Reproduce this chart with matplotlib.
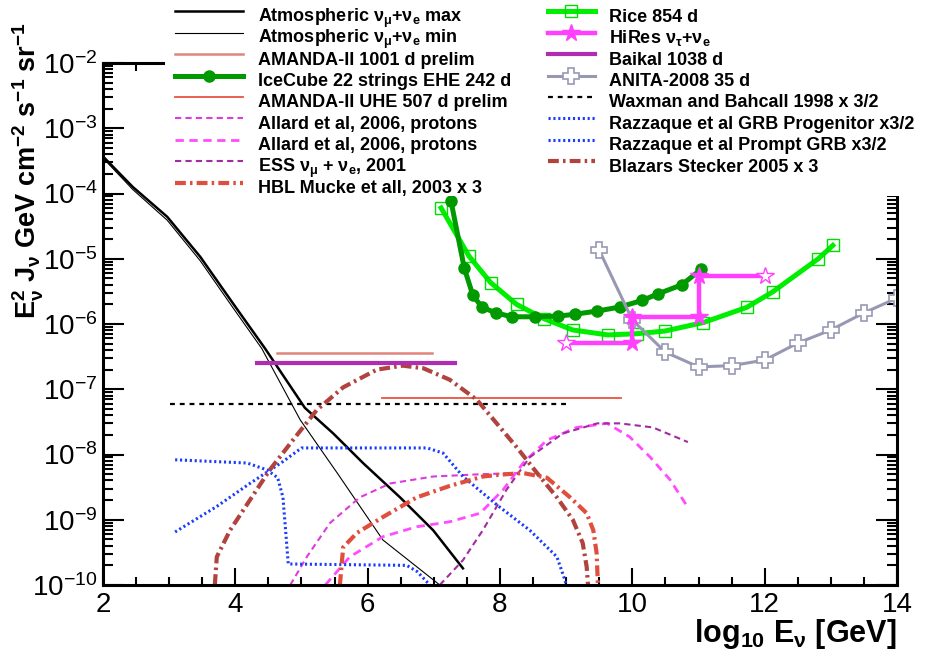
import numpy as np
import matplotlib.pyplot as plt
from matplotlib.patches import Rectangle
from matplotlib.ticker import MultipleLocator, LogLocator, NullFormatter

plt.rcParams['font.family'] = ['Liberation Sans', 'DejaVu Sans']
plt.rcParams['mathtext.default'] = 'regular'

# ---- data (x = log10 E [GeV], y = E^2 J) ----
atm_max_x = [2.0, 2.45, 2.97, 3.47, 3.96, 4.45, 5.05, 5.48, 5.93, 6.49, 6.99, 7.44]
atm_max_y = [3.7e-4, 1.26e-4, 4.4e-5, 1.07e-5, 2.1e-6, 4.2e-7, 5.2e-8, 2.1e-8, 7.4e-9, 2.2e-9, 6.9e-10, 1.8e-10]
atm_min_x = [2.0, 2.45, 2.97, 3.47, 3.96, 4.4, 4.98, 5.54, 6.23, 7.09]
atm_min_y = [3.5e-4, 1.15e-4, 3.9e-5, 9.3e-6, 1.8e-6, 4.2e-7, 3.4e-8, 5.2e-9, 4.9e-10, 1.0e-10]

amanda_x, amanda_y = [4.63, 6.97], [3.6e-7, 3.6e-7]
baikal_x, baikal_y = [4.33, 7.32], [2.5e-7, 2.5e-7]
amanda_uhe_x, amanda_uhe_y = [6.22, 9.83], [7.4e-8, 7.4e-8]
wb_x, wb_y = [3.01, 9.01], [6.0e-8, 6.0e-8]

icecube_x = [7.26, 7.46, 7.59, 7.73, 7.94, 8.18, 8.53, 8.88, 9.13, 9.47, 9.81, 10.15, 10.39, 10.75, 11.04]
icecube_y = [7.6e-5, 7.2e-6, 2.75e-6, 1.8e-6, 1.48e-6, 1.29e-6, 1.29e-6, 1.32e-6, 1.41e-6, 1.58e-6,
             1.82e-6, 2.3e-6, 2.9e-6, 4.0e-6, 6.9e-6]
rice_x = [7.11, 7.53, 7.86, 8.25, 8.67, 9.10, 9.63, 10.07, 10.49, 11.07, 11.73, 12.12, 12.81, 13.03]
rice_y = [6.0e-5, 1.1e-5, 4.3e-6, 2.0e-6, 1.2e-6, 8.1e-7, 6.8e-7, 7.1e-7, 7.8e-7, 1.05e-6, 1.8e-6,
          3.1e-6, 1.0e-5, 1.6e-5]
hires_x = [9, 10, 10, 11, 11, 12]
hires_y = [5.1e-7, 5.1e-7, 1.3e-6, 1.3e-6, 5.5e-6, 5.5e-6]
anita_x = [9.5, 10, 10.5, 11, 11.5, 12, 12.5, 13, 13.5, 14]
anita_y = [1.35e-5, 1.15e-6, 3.7e-7, 2.2e-7, 2.3e-7, 2.8e-7, 5.1e-7, 8.1e-7, 1.48e-6, 2.5e-6]

allard1_x = [4.83, 5.08, 5.43, 5.88, 6.34, 6.99, 7.74, 8.30]
allard1_y = [1.0e-10, 2.7e-10, 8.9e-10, 2.2e-9, 3.6e-9, 4.6e-9, 5.0e-9, 5.2e-9]
allard2_x = [5.36, 5.73, 6.23, 6.74, 7.24, 7.70, 8.05, 8.35, 8.71, 9.16, 9.62, 9.96, 10.27, 10.57, 10.83]
allard2_y = [1.0e-10, 2.7e-10, 5.5e-10, 7.8e-10, 9.3e-10, 1.26e-9, 2.9e-9, 7.4e-9, 1.66e-8, 2.6e-8,
             3.0e-8, 1.86e-8, 9.1e-9, 4.1e-9, 1.6e-9]
ess_x = [7.09, 7.44, 7.74, 8.10, 8.45, 8.95, 9.47, 9.81, 10.31, 10.84]
ess_y = [1.0e-10, 2.4e-10, 6.9e-10, 2.9e-9, 9.1e-9, 2.1e-8, 3.0e-8, 3.0e-8, 2.6e-8, 1.55e-8]
hbl_x = [5.58, 5.63, 5.84, 6.23, 6.74, 7.24, 7.74, 8.0, 8.35, 8.71, 9.06, 9.31, 9.41, 9.46, 9.48]
hbl_y = [1.0e-10, 3.8e-10, 6.3e-10, 1.1e-9, 2.2e-9, 3.3e-9, 4.6e-9, 4.9e-9, 5.2e-9, 4.4e-9, 2.2e-9,
         1.26e-9, 6.9e-10, 3.1e-10, 1.0e-10]
blazar_x = [3.69, 3.72, 3.92, 4.22, 4.52, 4.87, 5.23, 5.63, 6.14, 6.53, 6.84, 7.24, 7.65, 7.95, 8.25,
            8.56, 8.86, 9.10, 9.25, 9.31, 9.33]
blazar_y = [1.0e-10, 2.7e-10, 6.9e-10, 2.0e-9, 5.8e-9, 1.66e-8, 4.8e-8, 1.07e-7, 2.0e-7, 2.3e-7, 2.1e-7,
            1.4e-7, 6.9e-8, 3.0e-8, 1.3e-8, 5.2e-9, 2.2e-9, 1.0e-9, 4.4e-10, 1.9e-10, 1.0e-10]
grb_prog_x = [3.09, 4.18, 4.48, 4.64, 4.72, 4.80, 6.59, 6.75, 6.94]
grb_prog_y = [8.3e-9, 7.4e-9, 5.8e-9, 4.4e-9, 2.2e-9, 2.1e-10, 2.0e-10, 1.6e-10, 1.0e-10]
grb_prompt_x = [3.09, 3.72, 4.22, 4.72, 5.0, 6.90, 7.14, 7.44, 7.95, 8.45, 8.86, 8.98, 9.0]
grb_prompt_y = [6.5e-10, 1.6e-9, 3.6e-9, 7.8e-9, 1.26e-8, 1.26e-8, 1.05e-8, 4.6e-9, 1.7e-9, 6.9e-10,
                2.7e-10, 1.2e-10, 1.0e-10]

fig = plt.figure(figsize=(9.42, 6.63), dpi=100)
ax = fig.add_axes([103 / 942, 1 - 585 / 663, 794 / 942, 522 / 663])
ax.set_yscale('log')

dashdot = (0, (2.6, 1.0, 0.6, 1.0))

l_atm_max, = ax.plot(atm_max_x, atm_max_y, color='black', lw=1.8, label=r'Atmospheric $\nu_{\mu}$+$\nu_{e}$ max')
l_atm_min, = ax.plot(atm_min_x, atm_min_y, color='black', lw=0.8, label=r'Atmospheric $\nu_{\mu}$+$\nu_{e}$ min')
l_amanda, = ax.plot(amanda_x, amanda_y, color='#e0847c', lw=1.8, label='AMANDA-II 1001 d prelim')
l_amanda_uhe, = ax.plot(amanda_uhe_x, amanda_uhe_y, color='#e8553f', lw=1.3, label='AMANDA-II UHE 507 d prelim')
l_wb, = ax.plot(wb_x, wb_y, color='black', lw=1.6, ls=(0, (2.2, 2.2)), label='Waxman and Bahcall 1998 x 3/2')
l_allard1, = ax.plot(allard1_x, allard1_y, color='#dd3cdd', lw=1.5, ls=(0, (3, 2)), label='Allard et al, 2006, protons')
l_allard2, = ax.plot(allard2_x, allard2_y, color='#ff4cff', lw=2.0, ls=(0, (3, 2)), label='Allard et al, 2006, protons')
l_ess, = ax.plot(ess_x, ess_y, color='#a02ca0', lw=1.5, ls=(0, (3, 2)), label=r'ESS $\nu_{\mu}$ + $\nu_{e}$, 2001')
l_prog, = ax.plot(grb_prog_x, grb_prog_y, color='#1a3cff', lw=2.2, ls=(0, (0.7, 0.9)),
                  label='Razzaque et al GRB Progenitor x3/2')
l_prompt, = ax.plot(grb_prompt_x, grb_prompt_y, color='#1a3cff', lw=2.2, ls=(0, (0.7, 0.9)),
                    label='Razzaque et al Prompt GRB x3/2')
l_blazar, = ax.plot(blazar_x, blazar_y, color='#b0433e', lw=3.0, ls=dashdot, label='Blazars Stecker 2005 x 3')
l_hbl, = ax.plot(hbl_x, hbl_y, color='#e04e3e', lw=3.0, ls=dashdot, label='HBL Mucke et all, 2003 x 3')
l_baikal, = ax.plot(baikal_x, baikal_y, color='#b02cb0', lw=3.0, label='Baikal 1038 d')
l_rice, = ax.plot(rice_x, rice_y, color='#00ee00', lw=3.6, marker='s', ms=8, mfc='none', mec='#00dd00',
                  mew=1.0, label='Rice 854 d')
l_icecube, = ax.plot(icecube_x, icecube_y, color='#009a00', lw=3.6, marker='o', ms=8, label='IceCube 22 strings EHE 242 d')
l_anita, = ax.plot(anita_x, anita_y, color='#9898b4', lw=2.2, marker='P', ms=12, mfc='white', mec='#9898b4',
                   mew=1.2, label='ANITA-2008 35 d')
l_hires, = ax.plot(hires_x, hires_y, color='#ff40ff', lw=3.2, marker='*', ms=13, markevery=[1, 2, 3, 4],
                   label=r'HiRes $\nu_{\tau}$+$\nu_{e}$')
ax.plot([hires_x[0], hires_x[-1]], [hires_y[0], hires_y[-1]], ls='none', marker='*', ms=13,
        mfc='white', mec='#ff40ff', mew=1.0)

ax.set_xlim(2, 14)
ax.set_ylim(1e-10, 1e-2)
ax.xaxis.set_major_locator(MultipleLocator(2))
ax.xaxis.set_minor_locator(MultipleLocator(0.5))
ax.yaxis.set_major_locator(LogLocator(base=10, numticks=20))
ax.yaxis.set_minor_locator(LogLocator(base=10, subs=np.arange(2, 10), numticks=20))
ax.yaxis.set_minor_formatter(NullFormatter())

ax.tick_params(which='both', direction='in', top=True, right=True, width=1.5)
ax.tick_params(axis='x', which='major', length=12, labelsize=20, pad=5)
ax.tick_params(axis='x', which='minor', length=6)
ax.tick_params(axis='y', which='major', length=15, labelsize=20, pad=4)
ax.tick_params(axis='y', which='minor', length=7)
for s in ax.spines.values():
    s.set_linewidth(2.2)

ax.set_xlabel(r'log$_{10}$ E$_{\nu}$ [GeV]', fontsize=22, fontweight='bold', loc='right')
ax.xaxis.set_label_coords(1.0, -0.062)
ax.set_ylabel(r'$E_{\nu}^{2}$ $J_{\nu}$ GeV cm$^{-2}$ s$^{-1}$ sr$^{-1}$', fontsize=19.5, fontweight='bold', loc='top')
ax.yaxis.set_label_coords(-0.072, 1.079)

# white area behind the legend (hides the frame there)
ax.add_artist(Rectangle((165 / 942, 1 - 196 / 663), 777 / 942, 196 / 663, transform=fig.transFigure,
                        facecolor='white', edgecolor='none', zorder=4, clip_on=False))

leg_kw = dict(loc='upper left', bbox_transform=fig.transFigure, frameon=False,
              prop=dict(weight='bold', size=13), borderpad=0, borderaxespad=0,
              handletextpad=0.8, labelspacing=-0.49, handleheight=2.2)
col1 = [l_atm_max, l_atm_min, l_amanda, l_icecube, l_amanda_uhe, l_allard1, l_allard2, l_ess, l_hbl]
col2 = [l_rice, l_hires, l_baikal, l_anita, l_wb, l_prog, l_prompt, l_blazar]
leg1 = ax.legend(handles=col1, bbox_to_anchor=(175 / 942, 1 - 1 / 663), handlelength=3.77, **leg_kw)
ax.add_artist(leg1)
leg2 = ax.legend(handles=col2, bbox_to_anchor=(548 / 942, 1 - 1 / 663), handlelength=2.6, **leg_kw)
leg1.set_zorder(6)

fig.savefig('out.png', dpi=100)
